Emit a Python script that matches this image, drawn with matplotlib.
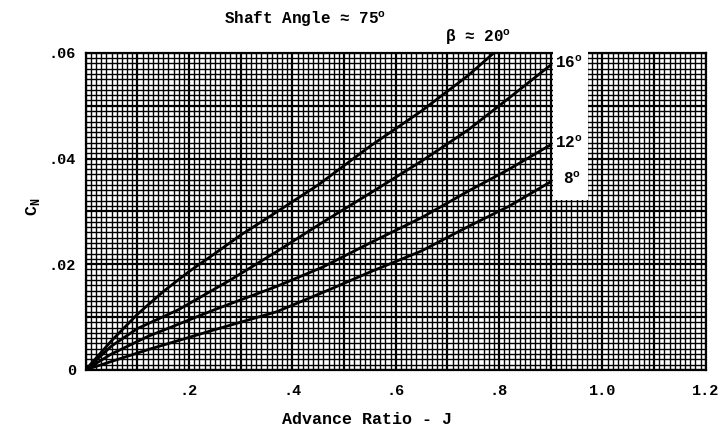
import matplotlib
matplotlib.use("Agg")
import matplotlib.pyplot as plt
from matplotlib.ticker import MultipleLocator
from matplotlib.patches import Rectangle

plt.rcParams['font.family'] = ['Liberation Mono', 'DejaVu Sans']
plt.rcParams['font.weight'] = 'bold'
plt.rcParams['mathtext.fontset'] = 'custom'
plt.rcParams['mathtext.rm'] = 'Liberation Mono:bold'
plt.rcParams['mathtext.bf'] = 'Liberation Mono:bold'

# curves: advance ratio J vs normal force coefficient C_N
j_20 = [0, 0.05, 0.10, 0.15, 0.20, 0.25, 0.30, 0.37, 0.45, 0.55, 0.65, 0.74, 0.79]
cn_20 = [0, 0.0055, 0.0105, 0.0148, 0.0186, 0.0220, 0.0255, 0.0299, 0.0350, 0.0423, 0.0490, 0.0557, 0.0600]

j_16 = [0, 0.05, 0.10, 0.18, 0.28, 0.37, 0.46, 0.55, 0.65, 0.74, 0.82, 0.90]
cn_16 = [0, 0.0045, 0.0078, 0.0114, 0.0170, 0.0224, 0.0280, 0.0334, 0.0395, 0.0454, 0.0515, 0.0577]

j_12 = [0, 0.05, 0.12, 0.25, 0.37, 0.46, 0.55, 0.65, 0.74, 0.82, 0.90]
cn_12 = [0, 0.0030, 0.0063, 0.0114, 0.0158, 0.0195, 0.0240, 0.0288, 0.0338, 0.0380, 0.0426]

j_8 = [0, 0.12, 0.25, 0.37, 0.47, 0.55, 0.65, 0.74, 0.82, 0.90]
cn_8 = [0, 0.0038, 0.0076, 0.0110, 0.0151, 0.0185, 0.0225, 0.0271, 0.0310, 0.0356]

x_ticks = [0, 0.1, 0.2, 0.3, 0.4, 0.5, 0.6, 0.7, 0.8, 0.9, 1.0, 1.1, 1.2]
x_labels = ["", "", ".2", "", ".4", "", ".6", "", ".8", "", "1.0", "", "1.2"]
y_ticks = [0, 0.01, 0.02, 0.03, 0.04, 0.05, 0.06]
y_labels = ["0", "", ".02", "", ".04", "", ".06"]

fig = plt.figure(figsize=(7.26, 4.30), dpi=100)
ax = fig.add_axes([0.118, 0.14, 0.854, 0.737])

ax.set_xlim(0, 1.2)
ax.set_ylim(0, 0.06)
ax.set_xticks(x_ticks)
ax.set_xticklabels(x_labels)
ax.set_yticks(y_ticks)
ax.set_yticklabels(y_labels)
ax.xaxis.set_minor_locator(MultipleLocator(0.01))
ax.yaxis.set_minor_locator(MultipleLocator(0.001))
ax.tick_params(which='both', length=0)
ax.tick_params(axis='x', pad=10, labelsize=11)
ax.tick_params(axis='y', pad=7, labelsize=11)

# graph paper
ax.grid(which='minor', color='black', linewidth=1.0)
ax.grid(which='major', color='black', linewidth=1.6)
ax.set_axisbelow(True)
for s in ax.spines.values():
    s.set_linewidth(1.6)

for j, cn in [(j_20, cn_20), (j_16, cn_16), (j_12, cn_12), (j_8, cn_8)]:
    ax.plot(j, cn, color='black', linewidth=2.0, zorder=3)

# blank strip used for the curve labels
ax.add_patch(Rectangle((0.905, 0.0322), 0.068, 0.0285, facecolor='white',
                       edgecolor='none', zorder=4, clip_on=False))

ax.text(0.908, 0.0581, "16$^\\mathrm{o}$", fontsize=11.5, va='center', ha='left', zorder=5)
ax.text(0.908, 0.0430, "12$^\\mathrm{o}$", fontsize=11.5, va='center', ha='left', zorder=5)
ax.text(0.924, 0.0362, "8$^\\mathrm{o}$", fontsize=11.5, va='center', ha='left', zorder=5)
ax.text(0.695, 0.0630, "\u03b2 \u2248 20$^\\mathrm{o}$", fontsize=11.5, va='center', ha='left',
        clip_on=False)

fig.text(0.42, 0.955, "Shaft Angle \u2248 75$^\\mathrm{o}$", fontsize=11.5, ha='center', va='center')
fig.text(0.505, 0.025, "Advance Ratio - J", fontsize=12, ha='center', va='center')
fig.text(0.045, 0.52, "C$_\\mathrm{N}$", fontsize=12, ha='center', va='center', rotation=90)

fig.savefig("out.png", dpi=100)
